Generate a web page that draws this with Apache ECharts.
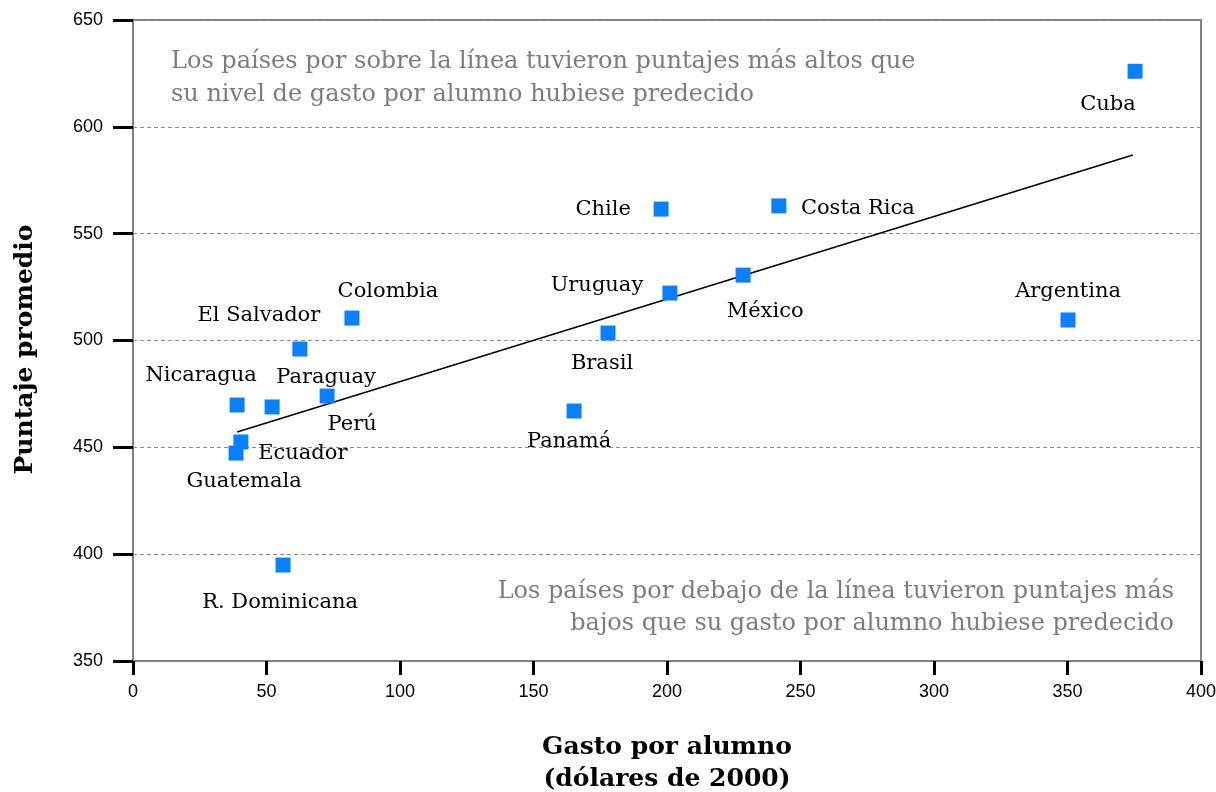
<!DOCTYPE html>
<html>
<head>
<meta charset="utf-8">
<script src="https://cdn.jsdelivr.net/npm/echarts@6/dist/echarts.min.js"></script>
<style>
html,body{margin:0;padding:0;background:#fff;}
#chart{width:1216px;height:792px;}
</style>
</head>
<body>
<div id="chart"></div>
<script>
var paises = ['Cuba','Chile','Costa Rica','Uruguay','México','Argentina','Brasil','Panamá',
	'Colombia','El Salvador','Nicaragua','Paraguay','Perú','Ecuador','Guatemala','R. Dominicana'];
var gasto = [375.3, 197.8, 241.9, 201.1, 228.5, 350.2, 177.9, 165.2,
	82.0, 62.5, 39.0, 52.1, 72.7, 40.4, 38.6, 56.2];
var puntaje = [626, 561.5, 563, 522.2, 530.6, 509.6, 503.5, 467,
	510.5, 496, 469.8, 468.9, 474, 452.5, 447.3, 394.9];
var tendencia = [[39, 457.2], [374.5, 586.8]];
var textoArriba = ['Los países por sobre la línea tuvieron puntajes más altos que',
	'su nivel de gasto por alumno hubiese predecido'];
var textoAbajo = ['Los países por debajo de la línea tuvieron puntajes más',
	'bajos que su gasto por alumno hubiese predecido'];

// desplazamiento de cada etiqueta respecto del punto (px)
var labelShift = {
	'Cuba':[-27,33], 'Chile':[-58,0], 'Costa Rica':[79,3], 'Uruguay':[-73,-8],
	'México':[22,36], 'Argentina':[0,-28], 'Brasil':[-6,31], 'Panamá':[-5,31],
	'Colombia':[36,-27], 'El Salvador':[-41,-33], 'Nicaragua':[-36,-29], 'Paraguay':[54,-29],
	'Perú':[25,28], 'Ecuador':[62,12], 'Guatemala':[8,28], 'R. Dominicana':[-3,37]
};

var chart = echarts.init(document.getElementById('chart'));
var puntos = [];
for (var i = 0; i < paises.length; i++) {
	puntos.push({
		name: paises[i],
		value: [gasto[i], puntaje[i]],
		label: {offset: labelShift[paises[i]]}
	});
}

var serif = '"DejaVu Serif", "Liberation Serif", serif';
var gris = '#7d7d7d';
var notas = [];
textoArriba.forEach(function(t, k) {
	notas.push({type: 'text', left: 171, top: 50 + k * 33,
		style: {text: t, fill: gris, font: '24px ' + serif}});
});
textoAbajo.forEach(function(t, k) {
	notas.push({type: 'text', right: 42, top: 580 + k * 32,
		style: {text: t, fill: gris, font: '24px ' + serif}});
});

var option = {
	animation: false,
	grid: {
		left: 133, right: 15, top: 20, bottom: 131,
		outerBoundsMode: 'none',
		show: true, borderColor: '#808080', borderWidth: 2
	},
	xAxis: {
		type: 'value', min: 0, max: 400, interval: 50,
		name: 'Gasto por alumno\n(dólares de 2000)',
		nameLocation: 'middle', nameGap: 70,
		nameTextStyle: {fontFamily: serif, fontWeight: 'bold', fontSize: 25, color: '#000', lineHeight: 32},
		axisLine: {lineStyle: {color: '#808080', width: 2}},
		axisTick: {length: 14, lineStyle: {color: '#000', width: 3}},
		axisLabel: {margin: 22, color: '#000', fontSize: 18, fontFamily: '"Liberation Sans", Arial, sans-serif'},
		splitLine: {show: false}
	},
	yAxis: {
		type: 'value', min: 350, max: 650, interval: 50,
		name: 'Puntaje promedio',
		nameLocation: 'middle', nameGap: 95, nameRotate: 90,
		nameTextStyle: {fontFamily: serif, fontWeight: 'bold', fontSize: 25, color: '#000', padding: [0, 18, 0, 0]},
		axisLine: {lineStyle: {color: '#808080', width: 2}},
		axisTick: {length: 20, lineStyle: {color: '#000', width: 3}},
		axisLabel: {margin: 30, color: '#000', fontSize: 18, fontFamily: '"Liberation Sans", Arial, sans-serif'},
		splitLine: {
			show: true,
			lineStyle: {color: '#8c8c8c', type: [4, 3], width: 1.2}
		}
	},
	graphic: notas,
	series: [
		{
			type: 'line',
			data: tendencia,
			symbol: 'none',
			lineStyle: {color: '#000', width: 1.5},
			z: 2
		},
		{
			type: 'scatter',
			data: puntos,
			symbol: 'rect',
			symbolSize: 15,
			itemStyle: {color: '#0a80ff', opacity: 1},
			label: {
				show: true,
				position: 'inside',
				formatter: '{b}',
				color: '#000',
				fontFamily: serif,
				fontSize: 21
			},
			z: 3
		}
	]
};
chart.setOption(option);
</script>
</body>
</html>
